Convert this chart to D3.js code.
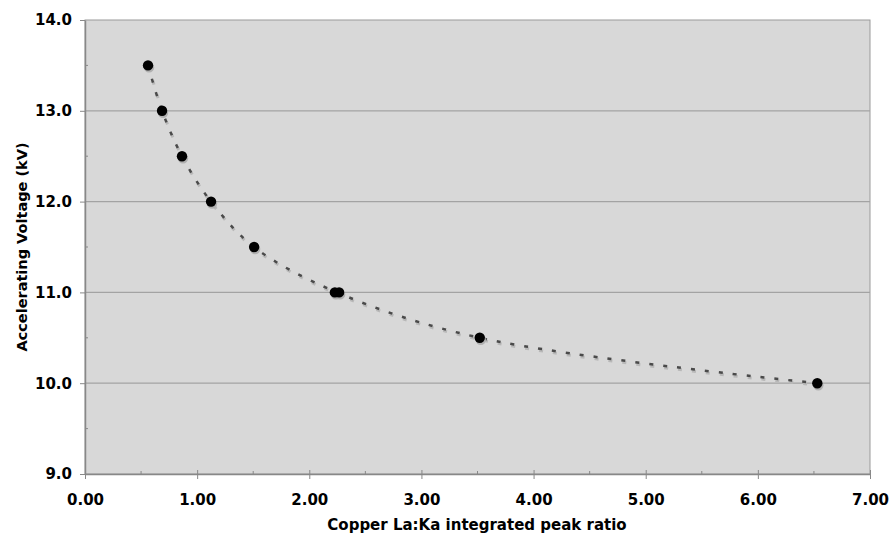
<!DOCTYPE html>
<html><head><meta charset="utf-8">
<script src="https://cdn.jsdelivr.net/npm/d3@7/dist/d3.min.js"></script>
<style>
html,body{margin:0;padding:0;background:#fff;}
text{font-family:"DejaVu Sans",Verdana,sans-serif;font-weight:bold;fill:#000;}
</style></head>
<body>
<svg id="chart" width="890" height="534"></svg>
<script>
const ratios   = [0.562, 0.687, 0.865, 1.124, 1.508, 2.228, 2.266, 3.52, 6.53];
const voltages = [13.5, 13.0, 12.5, 12.0, 11.5, 11.0, 11.0, 10.5, 10.0];
const xTicks = [0,1,2,3,4,5,6,7];
const yTicks = [9,10,11,12,13,14];
const xTitle = "Copper La:Ka integrated peak ratio";
const yTitle = "Accelerating Voltage (kV)";

const svg = d3.select("#chart");
const m = {left:85, top:20, right:870, bottom:474};
const x = d3.scaleLinear().domain([0,7]).range([m.left, m.right]);
const y = d3.scaleLinear().domain([9,14]).range([m.bottom, m.top]);

svg.append("rect").attr("x",m.left).attr("y",m.top)
  .attr("width",m.right-m.left).attr("height",m.bottom-m.top)
  .attr("fill","#d8d8d8").attr("stroke","#9a9a9a").attr("stroke-width",1);

svg.append("g").selectAll("line").data(yTicks.slice(1,-1)).join("line")
  .attr("x1",m.left).attr("x2",m.right)
  .attr("y1",d=>y(d)).attr("y2",d=>y(d))
  .attr("stroke","#a3a3a3").attr("stroke-width",1.2);

const yMinor = d3.range(9.5,14,1);
svg.append("g").selectAll("line").data(yMinor).join("line")
  .attr("x1",m.left).attr("x2",m.left+3)
  .attr("y1",d=>y(d)).attr("y2",d=>y(d)).attr("stroke","#888");
const xMinor = d3.range(0.5,7,1);
svg.append("g").selectAll("line").data(xMinor).join("line")
  .attr("x1",d=>x(d)).attr("x2",d=>x(d))
  .attr("y1",m.bottom).attr("y2",m.bottom-3).attr("stroke","#888");

const xAxis = d3.axisBottom(x).tickValues(xTicks).tickFormat(d3.format(".2f")).tickSizeInner(5).tickSizeOuter(0).tickPadding(15);
const gx = svg.append("g").attr("transform",`translate(0,${m.bottom})`).call(xAxis);
gx.selectAll(".tick line").attr("y1",-4).attr("stroke","#888");
gx.select(".domain").attr("stroke","#888").attr("stroke-width",1.5);
gx.selectAll("text").attr("font-size",15).attr("font-family","DejaVu Sans, Verdana, sans-serif").attr("font-weight","bold").attr("fill","#000");

const yAxis = d3.axisLeft(y).tickValues(yTicks).tickFormat(d3.format(".1f")).tickSizeInner(5).tickSizeOuter(0).tickPadding(8);
const gy = svg.append("g").attr("transform",`translate(${m.left},0)`).call(yAxis);
gy.selectAll(".tick line").attr("stroke","#888");
gy.select(".domain").attr("stroke","#888").attr("stroke-width",1.5);
gy.selectAll("text").attr("font-size",15).attr("font-family","DejaVu Sans, Verdana, sans-serif").attr("font-weight","bold").attr("fill","#000");

// trend curve: through points, duplicates at equal voltage averaged
const pts = ratios.map((r,i)=>[r, voltages[i]]);
const trend = Array.from(d3.rollup(pts, v=>d3.mean(v,d=>d[0]), d=>d[1]), ([v,r])=>[r,v])
  .sort((a,b)=>a[0]-b[0]);
const line = d3.line().x(d=>x(d[0])).y(d=>y(d[1])).curve(d3.curveCatmullRom.alpha(0.5));
svg.append("path").attr("d",line(trend)).attr("fill","none")
  .attr("stroke","#b8b8b8").attr("stroke-width",3).attr("stroke-dasharray","4,10")
  .attr("transform","translate(1,2)");
svg.append("path").attr("d",line(trend)).attr("fill","none")
  .attr("stroke","#4a4a4a").attr("stroke-width",2.5).attr("stroke-dasharray","4,10");

svg.append("g").selectAll("circle").data(pts).join("circle")
  .attr("cx",d=>x(d[0])+1).attr("cy",d=>y(d[1])+2).attr("r",5.2).attr("fill","#b0b0b0");
svg.append("g").selectAll("circle").data(pts).join("circle")
  .attr("cx",d=>x(d[0])).attr("cy",d=>y(d[1])).attr("r",5.2).attr("fill","#000");

svg.append("text").attr("x",477).attr("y",530)
  .attr("text-anchor","middle").attr("font-size",15).text(xTitle);
svg.append("text").attr("transform",`translate(27,247) rotate(-90)`)
  .attr("text-anchor","middle").attr("font-size",14.5).text(yTitle);
</script>
</body></html>
